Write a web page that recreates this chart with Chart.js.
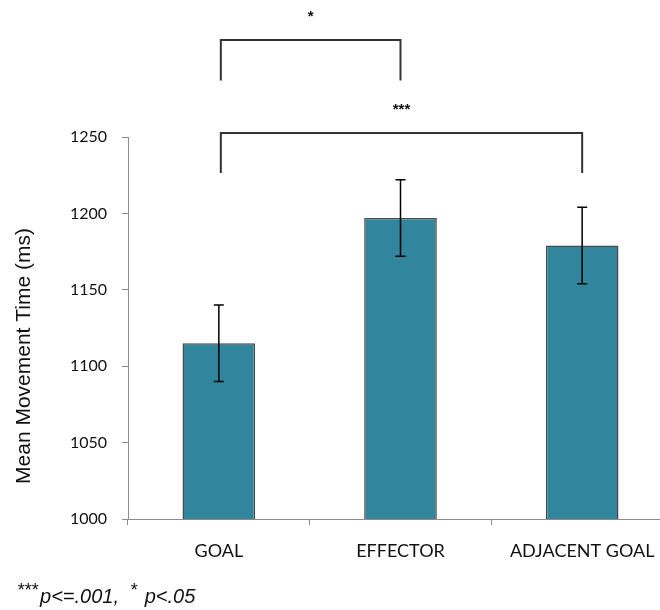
<!DOCTYPE html>
<html>
<head>
<meta charset="utf-8">
<script src="https://cdn.jsdelivr.net/npm/chart.js@4"></script>
<style>
  html, body { margin: 0; padding: 0; background: #fff; overflow: hidden; }
  #wrap { width: 673px; height: 610px; }
</style>
</head>
<body>
<div id="wrap"><canvas id="chart" width="673" height="610"></canvas></div>
<script>
// --- Data ---
const CATEGORIES = ['GOAL', 'EFFECTOR', 'ADJACENT GOAL'];
const MEAN_TIMES = [1115, 1197, 1179];
const SEM_TIMES = [25, 25, 25];
const Y_TICKS = [1000, 1050, 1100, 1150, 1200, 1250];
const Y_TITLE = 'Mean Movement Time (ms)';
// significance brackets: [from category, to category, stars]
const COMPARISONS = [[0, 1, '*'], [0, 2, '***']];

// --- Style ---
const BAR_FILL = '#31859c';
const BAR_EDGE = '#4a4a4a';
const AXIS_GRAY = '#8c8c8c';
const BRACKET_LEVELS = [{ top: 1313.5, foot: 1287 }, { top: 1252.6, foot: 1226.4 }];
const SANS = '"Liberation Sans", Arial, sans-serif';

const errorBars = {
    id: 'errorBars',
    afterDatasetsDraw(chart) {
        const { ctx, scales: { y } } = chart;
        const meta = chart.getDatasetMeta(0);
        ctx.save();
        ctx.strokeStyle = '#000';
        ctx.lineWidth = 1.5;
        meta.data.forEach((bar, i) => {
            const hi = y.getPixelForValue(MEAN_TIMES[i] + SEM_TIMES[i]);
            const lo = y.getPixelForValue(MEAN_TIMES[i] - SEM_TIMES[i]);
            ctx.beginPath();
            ctx.moveTo(bar.x, hi); ctx.lineTo(bar.x, lo);
            ctx.moveTo(bar.x - 5, hi); ctx.lineTo(bar.x + 5, hi);
            ctx.moveTo(bar.x - 5, lo); ctx.lineTo(bar.x + 5, lo);
            ctx.stroke();
        });
        ctx.restore();
    }
};

const annotations = {
    id: 'annotations',
    afterDraw(chart) {
        const { ctx, scales: { y } } = chart;
        const meta = chart.getDatasetMeta(0);
        ctx.save();

        // y axis title, sitting a little below the axis middle
        ctx.save();
        ctx.translate(24, 356);
        ctx.rotate(-Math.PI / 2);
        ctx.font = '21px ' + SANS;
        ctx.fillStyle = '#111';
        ctx.textAlign = 'center';
        ctx.textBaseline = 'middle';
        ctx.fillText(Y_TITLE, 0, 0);
        ctx.restore();

        // significance brackets
        ctx.strokeStyle = '#333';
        ctx.lineWidth = 2;
        ctx.fillStyle = '#111';
        ctx.font = 'bold 15px ' + SANS;
        ctx.textAlign = 'center';
        ctx.textBaseline = 'middle';
        COMPARISONS.forEach(([a, b, stars], k) => {
            const x1 = meta.data[a].x + 2, x2 = meta.data[b].x;
            const top = y.getPixelForValue(BRACKET_LEVELS[k].top);
            const foot = y.getPixelForValue(BRACKET_LEVELS[k].foot);
            ctx.beginPath();
            ctx.moveTo(x1, foot); ctx.lineTo(x1, top); ctx.lineTo(x2, top); ctx.lineTo(x2, foot);
            ctx.stroke();
            ctx.fillText(stars, (x1 + x2) / 2, top - 23);
        });

        // footnote
        ctx.textAlign = 'left';
        ctx.textBaseline = 'alphabetic';
        let x = 17;
        const base = 603;
        const parts = [['***', true], ['p<=.001,  ', false], ['*', true], [' p<.05', false]];
        parts.forEach(([t, sup]) => {
            ctx.font = (sup ? 'italic 18px ' : 'italic 20px ') + SANS;
            ctx.fillText(t, x, sup ? base - 7 : base);
            x += ctx.measureText(t).width + (sup ? 2 : 0);
        });
        ctx.restore();
    }
};

new Chart(document.getElementById('chart'), {
    type: 'bar',
    data: {
        labels: CATEGORIES,
        datasets: [{
            data: MEAN_TIMES,
            backgroundColor: BAR_FILL,
            borderColor: BAR_EDGE,
            borderWidth: 1.5,
            categoryPercentage: 0.4,
            barPercentage: 1.0,
            borderSkipped: false
        }]
    },
    options: {
        responsive: false,
        animation: false,
        layout: { padding: { top: 137, left: 0, right: 0, bottom: 0 } },
        plugins: { legend: { display: false }, tooltip: { enabled: false } },
        scales: {
            x: {
                grid: { display: true, drawOnChartArea: false, drawTicks: true, tickLength: 6, color: AXIS_GRAY, offset: true },
                border: { color: AXIS_GRAY, width: 1 },
                ticks: { color: '#111', padding: 15, font: { family: 'Lato, "Open Sans", sans-serif', size: 18 } },
                afterFit: s => { s.height = 91; }
            },
            y: {
                min: 1000, max: 1250,
                afterBuildTicks: s => { s.ticks = Y_TICKS.map(v => ({ value: v })); },
                grid: { drawOnChartArea: false, drawTicks: true, tickLength: 6, color: AXIS_GRAY },
                border: { color: AXIS_GRAY, width: 1 },
                ticks: { color: '#111', padding: 15, callback: v => String(v),
                         font: { family: 'Lato, sans-serif', size: 16 } },
                afterFit: s => { s.width = 128; }
            }
        }
    },
    plugins: [errorBars, annotations]
});
</script>
</body>
</html>
